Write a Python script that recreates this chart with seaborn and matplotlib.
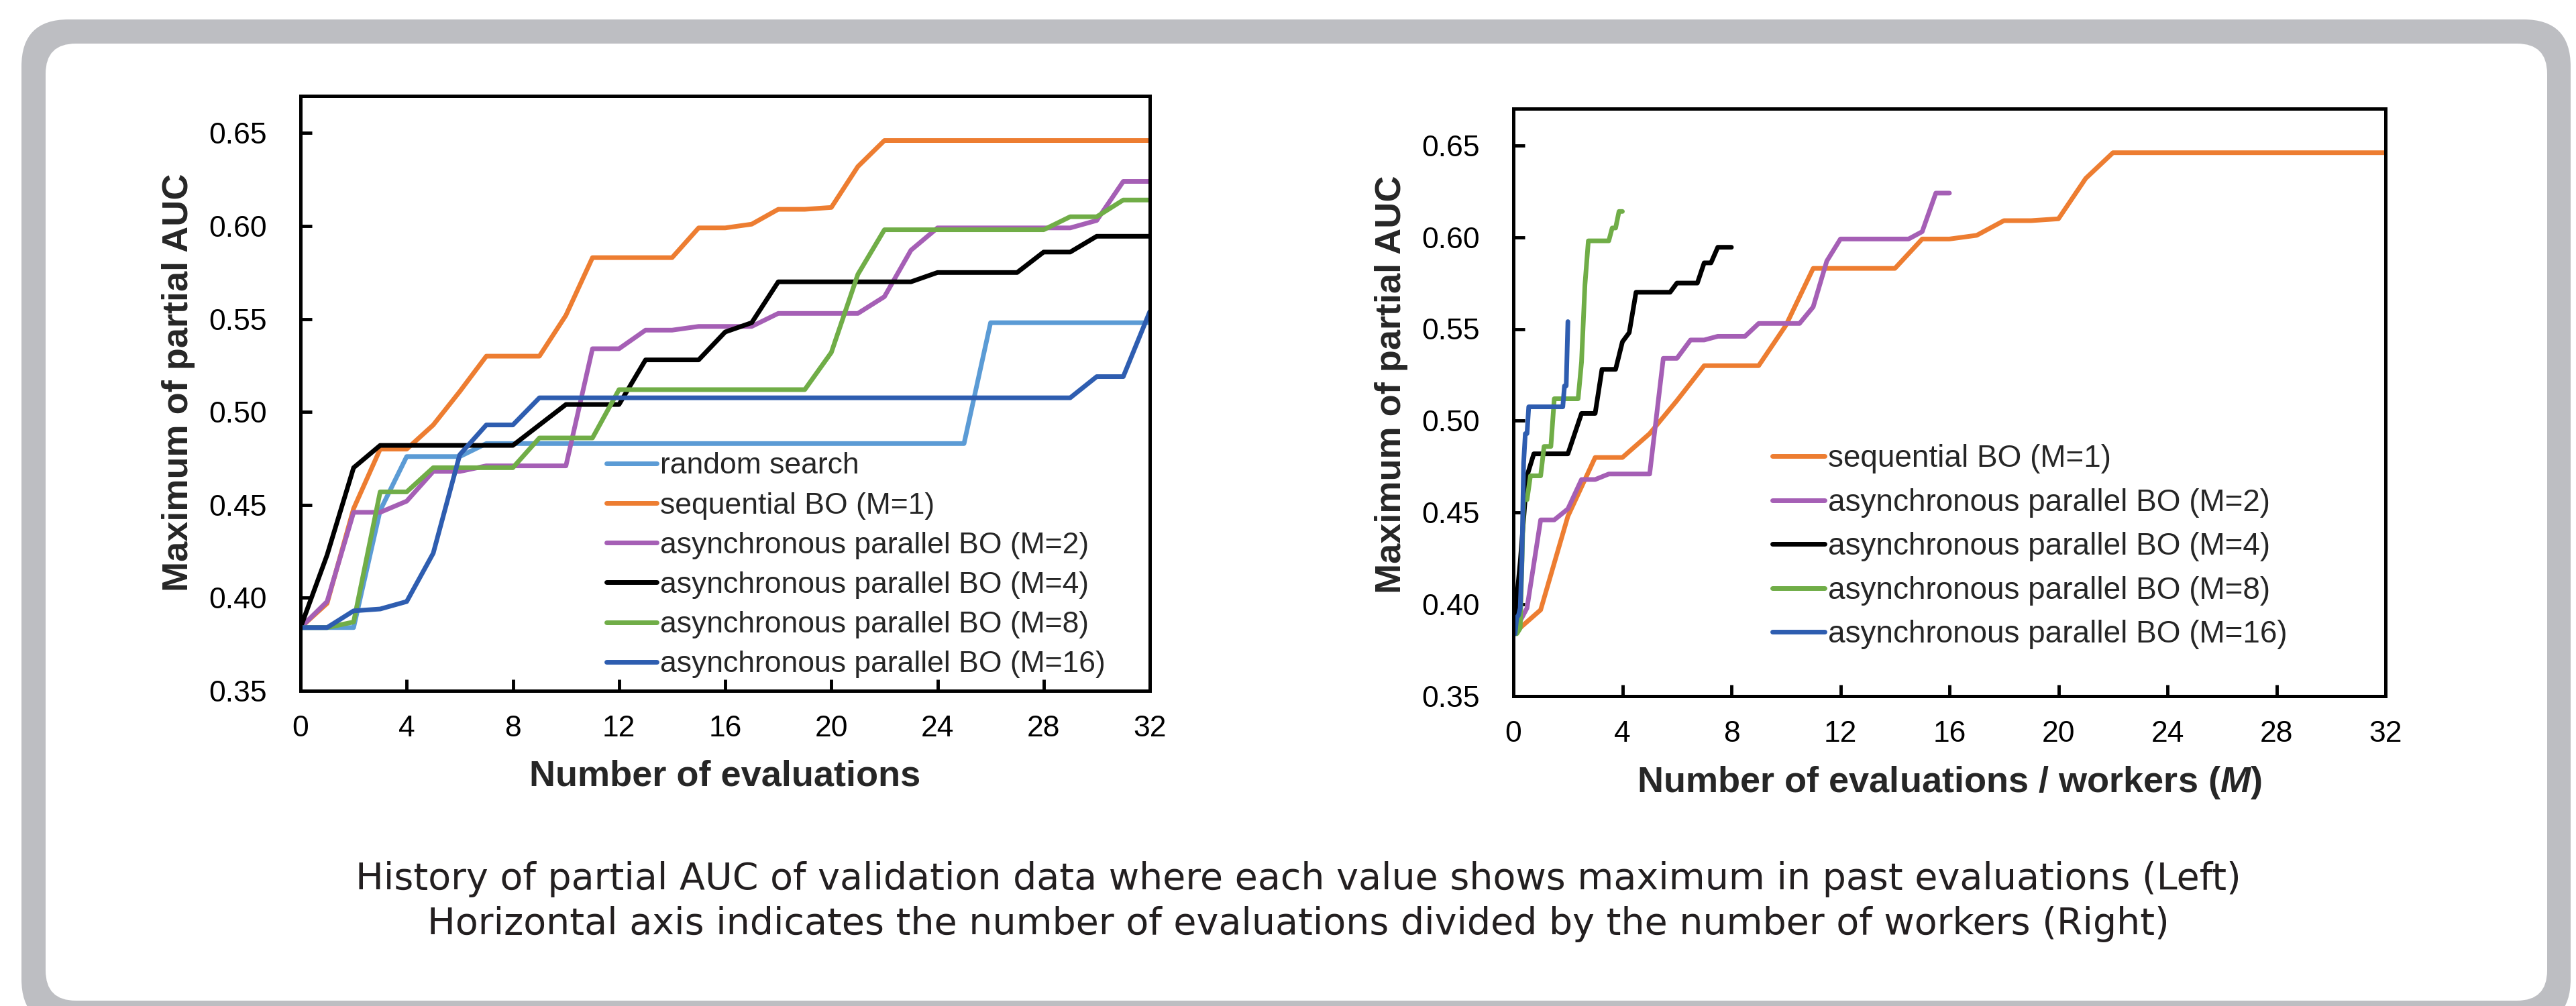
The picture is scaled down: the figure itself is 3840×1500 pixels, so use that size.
import matplotlib
matplotlib.use("Agg")

import matplotlib.pyplot as plt
import numpy as np
import pandas as pd
import seaborn as sns
from matplotlib.patches import FancyBboxPatch
from matplotlib.transforms import IdentityTransform


# max partial AUC seen so far, after each of 32 evaluations
evaluations = list(range(33))

random_search = [0.384, 0.384, 0.384, 0.447, 0.476, 0.476, 0.476, 0.483, 0.483,
                 0.483, 0.483, 0.483, 0.483, 0.483, 0.483, 0.483, 0.483, 0.483,
                 0.483, 0.483, 0.483, 0.483, 0.483, 0.483, 0.483, 0.483, 0.548,
                 0.548, 0.548, 0.548, 0.548, 0.548, 0.548]
seq_bo = [0.384, 0.397, 0.448, 0.480, 0.480, 0.493, 0.511, 0.530, 0.530,
          0.530, 0.552, 0.583, 0.583, 0.583, 0.583, 0.599, 0.599, 0.601,
          0.609, 0.609, 0.610, 0.632, 0.646, 0.646, 0.646, 0.646, 0.646,
          0.646, 0.646, 0.646, 0.646, 0.646, 0.646]
async_m2 = [0.384, 0.398, 0.446, 0.446, 0.452, 0.468, 0.468, 0.471, 0.471,
            0.471, 0.471, 0.534, 0.534, 0.544, 0.544, 0.546, 0.546, 0.546,
            0.553, 0.553, 0.553, 0.553, 0.562, 0.587, 0.599, 0.599, 0.599,
            0.599, 0.599, 0.599, 0.603, 0.624, 0.624]
async_m4 = [0.384, 0.423, 0.470, 0.482, 0.482, 0.482, 0.482, 0.482, 0.482,
            0.493, 0.504, 0.504, 0.504, 0.528, 0.528, 0.528, 0.543, 0.548,
            0.570, 0.570, 0.570, 0.570, 0.570, 0.570, 0.575, 0.575, 0.575,
            0.575, 0.586, 0.586, 0.5945, 0.5945, 0.5945]
async_m8 = [0.384, 0.384, 0.387, 0.457, 0.457, 0.470, 0.470, 0.470, 0.470,
            0.486, 0.486, 0.486, 0.512, 0.512, 0.512, 0.512, 0.512, 0.512,
            0.512, 0.512, 0.532, 0.574, 0.598, 0.598, 0.598, 0.598, 0.598,
            0.598, 0.598, 0.605, 0.605, 0.614, 0.614]
async_m16 = [0.384, 0.384, 0.393, 0.394, 0.398, 0.424, 0.477, 0.493, 0.493,
             0.5076, 0.5076, 0.5076, 0.5076, 0.5076, 0.5076, 0.5076, 0.5076, 0.5076,
             0.5076, 0.5076, 0.5076, 0.5076, 0.5076, 0.5076, 0.5076, 0.5076, 0.5076,
             0.5076, 0.5076, 0.5076, 0.519, 0.519, 0.554]

labels = ["random search", "sequential BO (M=1)", "asynchronous parallel BO (M=2)",
          "asynchronous parallel BO (M=4)", "asynchronous parallel BO (M=8)",
          "asynchronous parallel BO (M=16)"]
workers = [1, 1, 2, 4, 8, 16]
curves = [random_search, seq_bo, async_m2, async_m4, async_m8, async_m16]
colors = ["#5B9BD5", "#ED7D31", "#A55FB5", "#000000", "#70AD47", "#2E5DB0"]

x_ticks = [0, 4, 8, 12, 16, 20, 24, 28, 32]
y_ticks = [0.35, 0.40, 0.45, 0.50, 0.55, 0.60, 0.65]

caption_1 = "History of partial AUC of validation data where each value shows maximum in past evaluations (Left)"
caption_2 = "Horizontal axis indicates the number of evaluations divided by the number of workers (Right)"

W, H = 3840, 1500
LW = 5


def long_frame(per_worker):
    rows = []
    for name, vals, m in zip(labels, curves, workers):
        if per_worker and name == "random search":
            continue
        scale = m if per_worker else 1
        for k, v in zip(evaluations, vals):
            rows.append({"method": name, "x": k / scale, "auc": v})
    return pd.DataFrame(rows)


def style_axes(ax, xlabel, fs_tick):
    ax.set_xlim(0, 32)
    ax.set_ylim(0.35, 0.67)
    ax.set_xticks(x_ticks)
    ax.set_yticks(y_ticks)
    ax.set_yticklabels([f"{v:.2f}" for v in y_ticks])
    ax.tick_params(direction="in", length=12, width=3.5, labelsize=fs_tick,
                   color="black", labelcolor="black", left=True, bottom=True)
    ax.tick_params(axis="y", pad=36)
    ax.tick_params(axis="x", pad=26)
    for sp in ax.spines.values():
        sp.set_visible(True)
        sp.set_color("black")
        sp.set_linewidth(3.6)
    ax.set_xlabel(xlabel, fontsize=39, fontweight="bold")
    ax.set_ylabel("Maximum of partial AUC", fontsize=39, fontweight="bold")
    ax.xaxis.set_label_coords(0.5, -0.116)


def restyle_legend(ax, anchor, fs, spacing):
    old = ax.get_legend()
    handles = old.legend_handles
    names = [t.get_text() for t in old.get_texts()]
    for h in handles:
        h.set_linewidth(LW)
    ax.legend(handles, names, loc="upper left", bbox_to_anchor=anchor,
              frameon=False, fontsize=fs, handlelength=1.7, handletextpad=0.1,
              labelspacing=spacing, borderpad=0, borderaxespad=0)


sns.set_theme(style="white")
plt.rcParams["font.family"] = ["Liberation Sans", "DejaVu Sans"]
plt.rcParams["mathtext.fontset"] = "custom"
plt.rcParams["mathtext.it"] = "Liberation Sans:italic:bold"
plt.rcParams["mathtext.rm"] = "Liberation Sans:bold"

fig = plt.figure(figsize=(W / 100, H / 100), dpi=100, facecolor="white")

# grey rounded frame around the whole figure
outer = FancyBboxPatch((32, -30), 3800, 1501, boxstyle="round,pad=0,rounding_size=70",
                       transform=IdentityTransform(), facecolor="#BDBEC2",
                       edgecolor="none", zorder=-2)
inner = FancyBboxPatch((68, 8), 3729, 1427, boxstyle="round,pad=0,rounding_size=45",
                       transform=IdentityTransform(), facecolor="white",
                       edgecolor="none", zorder=-1)
fig.patches.extend([outer, inner])

ax1 = fig.add_axes([448 / W, (H - 1030) / H, 1266 / W, 887 / H])
ax2 = fig.add_axes([2256 / W, (H - 1038) / H, 1300 / W, 876 / H])

palette = dict(zip(labels, colors))

left_df = long_frame(per_worker=False)
sns.lineplot(data=left_df, x="x", y="auc", hue="method", hue_order=labels,
             palette=palette, estimator=None, errorbar=None, linewidth=LW, ax=ax1)
style_axes(ax1, "Number of evaluations", 32)
ax1.yaxis.set_label_coords(-0.124, 0.518)
restyle_legend(ax1, (0.36, 0.401), 32, 0.41)

right_df = long_frame(per_worker=True)
sns.lineplot(data=right_df, x="x", y="auc", hue="method", hue_order=labels[1:],
             palette=palette, estimator=None, errorbar=None, linewidth=LW, ax=ax2)
style_axes(ax2, "Number of evaluations / workers ($M$)", 32)
ax2.yaxis.set_label_coords(-0.121, 0.53)
restyle_legend(ax2, (0.297, 0.429), 33, 0.47)

cap_kw = dict(ha="center", va="baseline", fontsize=40, color="#231F20",
              family="DejaVu Sans")
fig.text(1935 / W, (H - 1326) / H, caption_1, **cap_kw)
fig.text(1935 / W, (H - 1393) / H, caption_2, **cap_kw)

fig.savefig("out.png", dpi=100, facecolor="white")
